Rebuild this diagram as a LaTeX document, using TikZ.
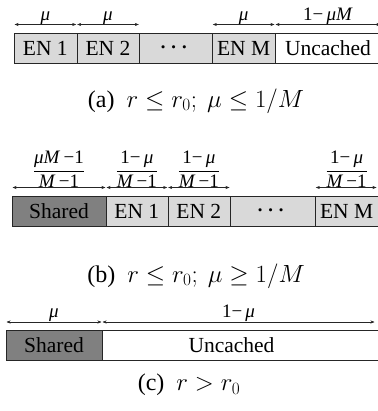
\documentclass[tikz,border=0pt]{standalone}
\usepackage{amsmath}
\usepackage{fontspec}
\setmainfont{Liberation Serif}
\usetikzlibrary{arrows.meta, positioning}

\begin{document}
\begin{tikzpicture}[
x=1pt, y=-1pt,
every node/.style={font=\fontsize{21.5}{25}\selectfont},
cellbox/.style={draw=black!85, minimum height=30pt, inner sep=0pt, outer sep=0pt, anchor=west},
enbox/.style={cellbox, fill=black!15},
sharedbox/.style={cellbox, fill=black!50},
uncbox/.style={cellbox, fill=white},
dim/.style={{Stealth[length=4pt,width=3pt]}-{Stealth[length=4pt,width=3pt]}, draw=black!85, shorten <=0.5pt, shorten >=0.5pt},
size/.style={font=\fontsize{19}{22}\selectfont, inner sep=0pt, above},
captext/.style={font=\fontsize{24}{28}\selectfont},
]
\useasboundingbox (0,0) rectangle (377,411);

%% case a
% nodes
\node[enbox, minimum width=62.7pt] (a1) at (14,48) {EN 1};
\node[enbox, minimum width=62.6pt] (a2) at (76.7,48) {EN 2};
\node[enbox, minimum width=73pt] (adots) at (139.3,48) {$\boldsymbol{\cdots}$};
\node[enbox, minimum width=62.7pt] (aM) at (212.3,48) {EN M};
\node[uncbox, minimum width=106pt] (aU) at (275,48) {Uncached};
\coordinate (aend) at (381,24.5);
% arrows
\draw[dim] ([yshift=8.5pt]a1.north west) -- ([yshift=8.5pt]a1.north east) node[size, midway] {\textit{μ}};
\draw[dim] ([yshift=8.5pt]a2.north west) -- ([yshift=8.5pt]a2.north east) node[size, midway] {\textit{μ}};
\draw[dim] ([yshift=8.5pt]aM.north west) -- ([yshift=8.5pt]aM.north east) node[size, midway] {\textit{μ}};
\draw[dim] ([yshift=8.5pt]aU.north west) -- (aend) node[size, midway] {1−\,\textit{μM}};
\node[captext] (capa) at (196,101) {(a)~~$r \leq r_0;\ \mu \leq 1/M$};

%% case b
% nodes
\node[sharedbox, minimum width=94pt] (bS) at (12,211) {Shared};
\node[enbox, minimum width=61.7pt] (b1) at (106,211) {EN 1};
\node[enbox, minimum width=62.3pt] (b2) at (167.7,211) {EN 2};
\node[enbox, minimum width=85.3pt] (bdots) at (230,211) {$\boldsymbol{\cdots}$};
\node[enbox, minimum width=62.7pt] (bM) at (315.3,211) {EN M};
% arrows
\draw[dim] ([yshift=8.5pt]bS.north west) -- ([yshift=8.5pt]bS.north east) node[size, midway] {$\dfrac{\text{\textit{μM}\,−1}}{\text{\textit{M}\,−1}}$};
\draw[dim] ([yshift=8.5pt]b1.north west) -- ([yshift=8.5pt]b1.north east) node[size, midway] {$\dfrac{\text{1−\,\textit{μ}}}{\text{\textit{M}\,−1}}$};
\draw[dim] ([yshift=8.5pt]b2.north west) -- ([yshift=8.5pt]b2.north east) node[size, midway] {$\dfrac{\text{1−\,\textit{μ}}}{\text{\textit{M}\,−1}}$};
\draw[dim, shorten >=1.5pt] ([yshift=8.5pt]bM.north west) -- ([yshift=8.5pt]bM.north east) node[size, midway] {$\dfrac{\text{1−\,\textit{μ}}}{\text{\textit{M}\,−1}}$};
\node[captext] (capb) at (196,276) {(b)~~$r \leq r_0;\ \mu \geq 1/M$};

%% case c
% nodes
\node[sharedbox, minimum width=96pt] (cS) at (6,345.5) {Shared};
\node[uncbox, minimum width=280pt, label={[xshift=-10.5pt]center:Uncached}] (cU) at (102,345.5) {};
\coordinate (cend) at (375,322);
% arrows
\draw[dim] ([yshift=8.5pt]cS.north west) -- ([yshift=8.5pt]cS.north east) node[size, midway] {\textit{μ}};
\draw[dim] ([yshift=8.5pt]cU.north west) -- (cend) node[size, midway] {1−\,\textit{μ}};
\node[captext] (capc) at (189,385) {(c)~~$r > r_0$};
\end{tikzpicture}
\end{document}
